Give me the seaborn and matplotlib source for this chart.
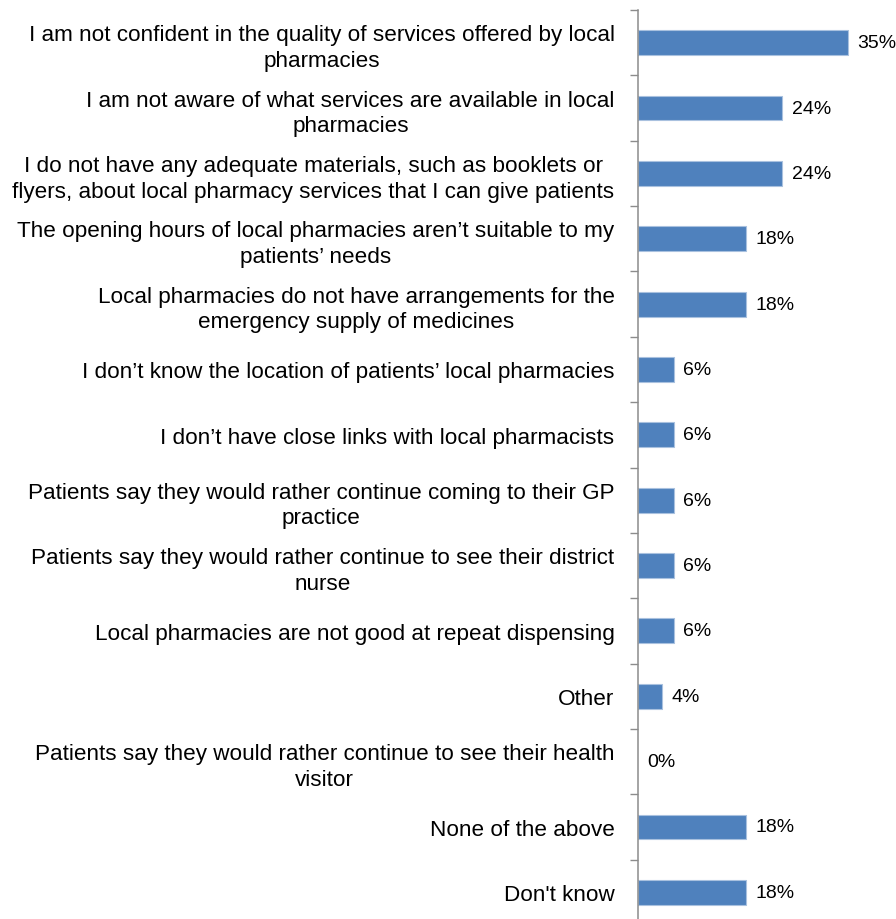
import matplotlib
matplotlib.use("Agg")
import matplotlib.pyplot as plt
import seaborn as sns
import pandas as pd
import numpy as np

# Reasons given, top to bottom, with the share of respondents choosing each
reasons = [
    "I am not confident in the quality of services offered by local\npharmacies",
    "I am not aware of what services are available in local\npharmacies",
    "I do not have any adequate materials, such as booklets or\nflyers, about local pharmacy services that I can give patients",
    "The opening hours of local pharmacies aren\u2019t suitable to my\npatients\u2019 needs",
    "Local pharmacies do not have arrangements for the\nemergency supply of medicines",
    "I don\u2019t know the location of patients\u2019 local pharmacies",
    "I don\u2019t have close links with local pharmacists",
    "Patients say they would rather continue coming to their GP\npractice",
    "Patients say they would rather continue to see their district\nnurse",
    "Local pharmacies are not good at repeat dispensing",
    "Other",
    "Patients say they would rather continue to see their health\nvisitor",
    "None of the above",
    "Don't know",
]
percentages = [35, 24, 24, 18, 18, 6, 6, 6, 6, 6, 4, 0, 18, 18]

df = pd.DataFrame({"reason": reasons, "pct": percentages})

sns.set_theme(style="white")
plt.rcParams["font.family"] = ["Liberation Sans", "DejaVu Sans"]

fig = plt.figure(figsize=(8.96, 9.20), dpi=100)
ax = fig.add_axes([0.7115, -0.0065, 0.2885, 0.9945])

sns.barplot(data=df, x="pct", y="reason", orient="h", color="#4F81BD",
            saturation=1, width=0.38, edgecolor="#A9C1DF", linewidth=0.8, ax=ax)

# empty bars get no outline
for patch in ax.patches:
    if patch.get_width() == 0:
        patch.set_linewidth(0)

n = len(reasons)
ax.set_xlim(0, 43)
ax.set_ylim(n - 0.5, -0.5)
ax.set_xlabel("")
ax.set_ylabel("")

# value labels at the end of each bar
for cont in ax.containers:
    ax.bar_label(cont, labels=[f"{v}%" for v in percentages], padding=7,
                 fontsize=14, color="black")

# category labels centered per line, tick marks at category boundaries
ax.set_yticks(range(n))
ax.set_yticklabels(reasons, fontsize=16.2, color="black",
                   multialignment="center", linespacing=1.3)
ax.set_yticks(np.arange(-0.5, n, 1.0), minor=True)
ax.tick_params(axis="y", which="major", length=0, pad=16.5)
ax.tick_params(axis="y", which="minor", length=5.5, width=1.0, color="#8C8C8C", left=True)
ax.set_xticks([])

for side in ("top", "right", "bottom"):
    ax.spines[side].set_visible(False)
ax.spines["left"].set_color("#8C8C8C")
ax.spines["left"].set_linewidth(1.1)

fig.savefig("out.png", dpi=100)
